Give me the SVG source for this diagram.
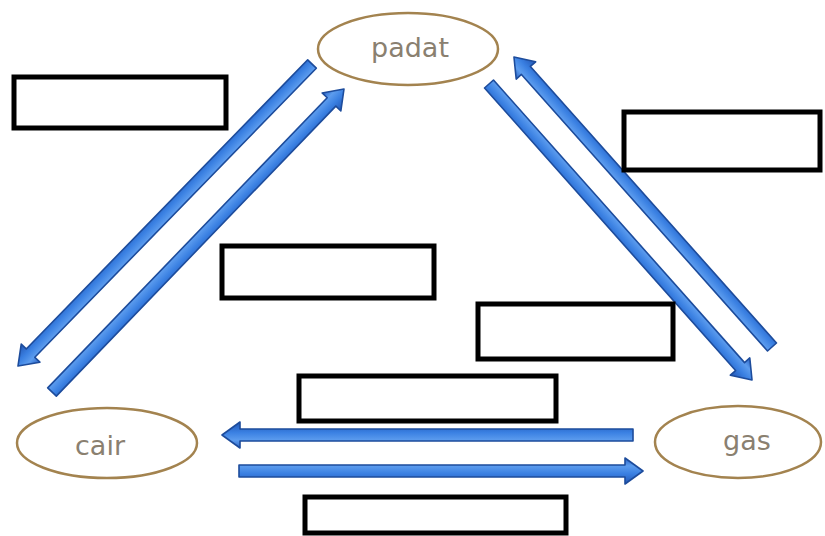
<svg xmlns="http://www.w3.org/2000/svg" width="825" height="536" viewBox="0 0 825 536">
<style>
.node ellipse{fill:#fff;stroke:#a3834f;stroke-width:2.5}
.node text{font-family:"DejaVu Sans",Verdana,sans-serif;font-size:27px;fill:#8a8070;text-anchor:middle}
.box{fill:#fff;stroke:#000;stroke-width:5}
.arr{fill:url(#g);stroke:#1d4c9c;stroke-width:1.6;stroke-linejoin:round}
</style>
<defs>
<linearGradient id="g" x1="0" y1="0" x2="0" y2="1">
<stop offset="0" stop-color="#2a62c4"/>
<stop offset="0.3" stop-color="#5c9cee"/>
<stop offset="0.6" stop-color="#3a80e2"/>
<stop offset="1" stop-color="#2357b5"/>
</linearGradient>
</defs>
<rect width="825" height="536" fill="#fff"/>
<g id="connectors">
<polygon class="arr" transform="translate(312,64) rotate(134.23)" points="0,-6 403.5,-6 403.5,-13 421.5,0 403.5,13 403.5,6 0,6"/>
<polygon class="arr" transform="translate(52,392) rotate(-46.06)" points="0,-6 402.8,-6 402.8,-13 420.8,0 402.8,13 402.8,6 0,6"/>
<polygon class="arr" transform="translate(489,84) rotate(48.38)" points="0,-6 378,-6 378,-13 396,0 378,13 378,6 0,6"/>
<polygon class="arr" transform="translate(772,347) rotate(-131.66)" points="0,-6 370.2,-6 370.2,-13 388.2,0 370.2,13 370.2,6 0,6"/>
<polygon class="arr" transform="translate(633,435) rotate(180)" points="0,-6 393,-6 393,-13 411,0 393,13 393,6 0,6"/>
<polygon class="arr" transform="translate(239,471)" points="0,-6 386,-6 386,-13 404,0 386,13 386,6 0,6"/>
</g>
<g id="padat" class="node"><ellipse cx="408" cy="49" rx="90" ry="36"/><text x="410" y="57">padat</text></g>
<g id="cair" class="node"><ellipse cx="107" cy="443" rx="90" ry="35"/><text x="100" y="455">cair</text></g>
<g id="gas" class="node"><ellipse cx="738" cy="442" rx="83" ry="36"/><text x="747" y="450">gas</text></g>
<g id="box1"><rect class="box" x="14" y="77" width="212" height="51"/></g>
<g id="box2"><rect class="box" x="624" y="112" width="196" height="58"/></g>
<g id="box3"><rect class="box" x="222" y="246" width="212" height="52"/></g>
<g id="box4"><rect class="box" x="478" y="304" width="195" height="55"/></g>
<g id="box5"><rect class="box" x="299" y="376" width="257" height="45"/></g>
<g id="box6"><rect class="box" x="305" y="497" width="261" height="36"/></g>
</svg>
